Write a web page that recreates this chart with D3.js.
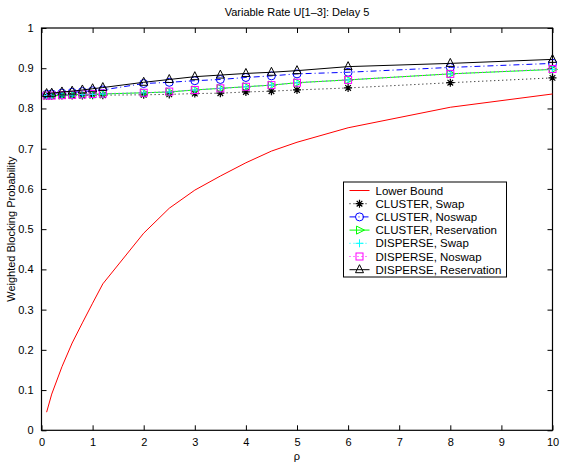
<!DOCTYPE html>
<html><head><meta charset="utf-8">
<script src="https://cdn.jsdelivr.net/npm/d3@7"></script>
<style>body{margin:0;background:#fff}svg{display:block;font-family:"Liberation Sans",Arial,sans-serif}</style>
</head><body>
<script>
const rho = [0.1,0.2,0.4,0.6,0.8,1.0,1.2,2,2.5,3,3.5,4,4.5,5,6,8,10];
const lowerBound     = [0.045,0.09,0.158,0.217,0.267,0.316,0.364,0.49,0.552,0.597,0.632,0.665,0.694,0.716,0.752,0.803,0.836];
const clusterSwap    = [0.831,0.831,0.832,0.832,0.832,0.833,0.833,0.834,0.835,0.837,0.838,0.841,0.843,0.846,0.851,0.864,0.876];
const clusterNoswap  = [0.835,0.836,0.838,0.840,0.842,0.844,0.846,0.862,0.865,0.869,0.872,0.877,0.881,0.886,0.890,0.902,0.912];
const clusterRes     = [0.832,0.832,0.833,0.834,0.835,0.835,0.836,0.839,0.841,0.846,0.850,0.854,0.858,0.864,0.871,0.886,0.897];
const disperseSwap   = [0.832,0.832,0.833,0.834,0.835,0.835,0.836,0.839,0.841,0.846,0.850,0.854,0.858,0.864,0.871,0.886,0.897];
const disperseNoswap = [0.832,0.832,0.833,0.834,0.835,0.836,0.837,0.839,0.842,0.846,0.850,0.854,0.858,0.864,0.871,0.886,0.898];
const disperseRes    = [0.837,0.838,0.841,0.843,0.846,0.849,0.852,0.865,0.872,0.879,0.883,0.887,0.890,0.894,0.904,0.912,0.922];
const xTicks = [0,1,2,3,4,5,6,7,8,9,10];
const yTicks = [0,0.1,0.2,0.3,0.4,0.5,0.6,0.7,0.8,0.9,1];
const yTickLabels = ["0","0.1","0.2","0.3","0.4","0.5","0.6","0.7","0.8","0.9","1"];

const series = [
  {name:"Lower Bound", values:lowerBound, color:"#ff0000", dash:null, marker:null},
  {name:"CLUSTER, Swap", values:clusterSwap, color:"#000000", dash:"1,3", marker:"star"},
  {name:"CLUSTER, Noswap", values:clusterNoswap, color:"#0000ff", dash:"6,3,1,3", marker:"circle"},
  {name:"CLUSTER, Reservation", values:clusterRes, color:"#00ff00", dash:null, marker:"tright"},
  {name:"DISPERSE, Swap", values:disperseSwap, color:"#00ffff", dash:"1,3", marker:"plus"},
  {name:"DISPERSE, Noswap", values:disperseNoswap, color:"#ff00ff", dash:"1,3", marker:"square"},
  {name:"DISPERSE, Reservation", values:disperseRes, color:"#000000", dash:null, marker:"tup"}
];

const W=568,H=464;
const L=41.5,R=552.5,T=28,B=430.3;
const svg=d3.select("body").append("svg").attr("width",W).attr("height",H);
const x=d3.scaleLinear().domain([0,10]).range([L,R]);
const y=d3.scaleLinear().domain([0,1]).range([B,T]);

const fs=11, lfs=11.5;
const gx=svg.append("g").attr("transform",`translate(0,${B})`)
  .call(d3.axisBottom(x).tickValues(xTicks).tickSizeInner(-5).tickSizeOuter(0).tickPadding(8).tickFormat(d3.format("d")));
const gy=svg.append("g").attr("transform",`translate(${L},0)`)
  .call(d3.axisLeft(y).tickValues(yTicks).tickSizeInner(-5).tickSizeOuter(0).tickPadding(8).tickFormat((d,i)=>yTickLabels[i]));
const gt=svg.append("g").attr("transform",`translate(0,${T})`)
  .call(d3.axisTop(x).tickValues(xTicks).tickSizeInner(-5).tickSizeOuter(0).tickFormat(""));
const gr=svg.append("g").attr("transform",`translate(${R},0)`)
  .call(d3.axisRight(y).tickValues(yTicks).tickSizeInner(-5).tickSizeOuter(0).tickFormat(""));
[gx,gy,gt,gr].forEach(g=>{
  g.select(".domain").remove();
  g.selectAll("line").attr("stroke","#000");
  g.selectAll("text").attr("font-size",fs).attr("fill","#000").style("font-family","'Liberation Sans',Arial,sans-serif");
});
svg.append("rect").attr("x",L).attr("y",T).attr("width",R-L).attr("height",B-T)
  .attr("fill","none").attr("stroke","#000").attr("stroke-width",1.2);

function drawMarker(g,type,cx,cy,color){
  const s=4;
  if(type==="star"){
    const p=d3.path();
    p.moveTo(cx-s,cy);p.lineTo(cx+s,cy);
    p.moveTo(cx,cy-s);p.lineTo(cx,cy+s);
    p.moveTo(cx-s*0.7,cy-s*0.7);p.lineTo(cx+s*0.7,cy+s*0.7);
    p.moveTo(cx-s*0.7,cy+s*0.7);p.lineTo(cx+s*0.7,cy-s*0.7);
    g.append("path").attr("d",p.toString()).attr("stroke",color).attr("stroke-width",1.2).attr("fill","none");
  } else if(type==="plus"){
    const p=d3.path();
    p.moveTo(cx-s,cy);p.lineTo(cx+s,cy);
    p.moveTo(cx,cy-s);p.lineTo(cx,cy+s);
    g.append("path").attr("d",p.toString()).attr("stroke",color).attr("stroke-width",1).attr("fill","none");
  } else if(type==="circle"){
    g.append("circle").attr("cx",cx).attr("cy",cy).attr("r",s).attr("stroke",color).attr("fill","none").attr("stroke-width",1);
  } else if(type==="square"){
    g.append("rect").attr("x",cx-3.5).attr("y",cy-3.5).attr("width",7).attr("height",7).attr("stroke",color).attr("fill","none").attr("stroke-width",1);
  } else if(type==="tup"){
    g.append("path").attr("d",`M${cx},${cy-s-1}L${cx+s},${cy+s-1}L${cx-s},${cy+s-1}Z`).attr("stroke",color).attr("fill","none").attr("stroke-width",1);
  } else if(type==="tright"){
    g.append("path").attr("d",`M${cx+s+1},${cy}L${cx-s+1},${cy-s}L${cx-s+1},${cy+s}Z`).attr("stroke",color).attr("fill","none").attr("stroke-width",1);
  }
}

const line=d3.line().x(d=>x(d[0])).y(d=>y(d[1]));
const plot=svg.append("g");
series.forEach(s=>{
  const pts=rho.map((r,i)=>[r,s.values[i]]);
  plot.append("path").attr("d",line(pts)).attr("fill","none").attr("stroke",s.color)
    .attr("stroke-width",1).attr("stroke-dasharray",s.dash);
  if(s.marker){
    const mg=plot.append("g");
    pts.forEach(p=>drawMarker(mg,s.marker,x(p[0]),y(p[1]),s.color));
  }
});

svg.append("text").attr("x",(L+R)/2).attr("y",16).attr("text-anchor","middle").attr("font-size",fs)
  .text("Variable Rate U[1\u20133]: Delay 5");
svg.append("text").attr("x",(L+R)/2).attr("y",460).attr("text-anchor","middle").attr("font-size",fs).text("\u03c1");
svg.append("text").attr("transform",`translate(15,${(T+B)/2}) rotate(-90)`).attr("text-anchor","middle").attr("font-size",fs)
  .text("Weighted Blocking Probability");

const lg=svg.append("g");
const lx=343.5,ly=182,lw=163,lh=95;
lg.append("rect").attr("x",lx).attr("y",ly).attr("width",lw).attr("height",lh).attr("fill","#fff").attr("stroke","#000").attr("stroke-width",1);
series.forEach((s,i)=>{
  const yy=ly+8.5+i*13.2;
  lg.append("line").attr("x1",lx+6).attr("x2",lx+26).attr("y1",yy).attr("y2",yy)
    .attr("stroke",s.color).attr("stroke-width",1).attr("stroke-dasharray",s.dash);
  if(s.marker) drawMarker(lg,s.marker,lx+16,yy,s.color);
  lg.append("text").attr("x",lx+32).attr("y",yy+4).attr("font-size",lfs).text(s.name);
});
</script>
</body></html>
